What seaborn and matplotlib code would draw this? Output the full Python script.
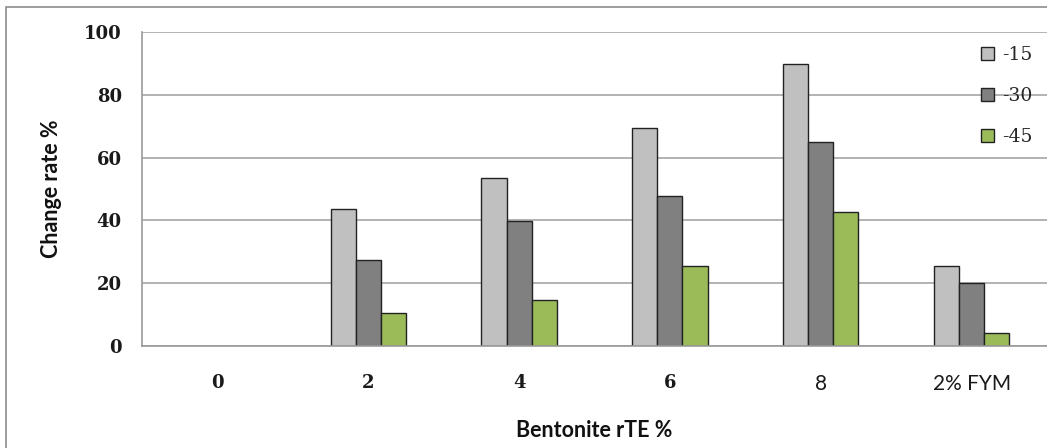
import matplotlib
matplotlib.use("Agg")
import matplotlib.pyplot as plt
import seaborn as sns
import pandas as pd
from matplotlib.patches import Rectangle

categories = ['0', '2', '4', '6', '8', '2% FYM']
series_names = ['-15', '-30', '-45']
vals_15 = [0, 43.6, 53.6, 69.3, 89.8, 25.5]
vals_30 = [0, 27.4, 39.8, 47.8, 65.1, 20.0]
vals_45 = [0, 10.5, 14.6, 25.6, 42.6, 4.1]
colors = ['#C0C0C0', '#808080', '#9BBB59']

rows = []
for name, vals in zip(series_names, [vals_15, vals_30, vals_45]):
    for c, v in zip(categories, vals):
        rows.append({'cat': c, 'series': name, 'value': v})
df = pd.DataFrame(rows)

sns.set_style("white")
fig = plt.figure(figsize=(10.47, 4.48), dpi=100)
ax = fig.add_axes([142/1047, 1 - 346/448, (1047-142)/1047, (346-32)/448])

sns.barplot(data=df, x='cat', y='value', hue='series', order=categories,
            hue_order=series_names, palette=colors, width=0.5, gap=0,
            edgecolor='#222222', linewidth=1.0, ax=ax, legend=True, saturation=1)

for p in ax.patches:
    if p.get_height() == 0:
        p.set_edgecolor('none')

ax.set_ylim(0, 100)
ax.set_xlim(-0.5, 5.5)
ax.set_yticks([0, 20, 40, 60, 80, 100])
ax.yaxis.grid(True, color='#A6A6A6', linewidth=1.2)
ax.set_axisbelow(True)
for s in ['top', 'right']:
    ax.spines[s].set_visible(False)
ax.spines['left'].set_color('#9a9a9a')
ax.spines['bottom'].set_color('#9a9a9a')
ax.spines['left'].set_linewidth(1.2)
ax.spines['bottom'].set_linewidth(1.2)
ax.tick_params(axis='y', length=6.5, width=1.2, color='#9a9a9a', pad=8)
ax.tick_params(axis='x', length=0, pad=20)

for lbl in ax.get_yticklabels():
    lbl.set_fontfamily('DejaVu Serif')
    lbl.set_fontweight('bold')
    lbl.set_fontsize(13)
    lbl.set_color('#1a1a1a')
for lbl in ax.get_xticklabels():
    if lbl.get_text() in ('8', '2% FYM'):
        lbl.set_fontfamily('Lato')
        lbl.set_fontsize(15)
    else:
        lbl.set_fontfamily('DejaVu Serif')
        lbl.set_fontweight('bold')
        lbl.set_fontsize(13)
    lbl.set_color('#1a1a1a')

ax.set_ylabel('Change rate %', fontfamily='Lato', fontweight='bold', fontsize=15.5, labelpad=16, color='#111111')
ax.set_xlabel('Bentonite rTE %', fontfamily='Lato', fontweight='bold', fontsize=15.5, labelpad=19, color='#111111')

handles, labels = ax.get_legend_handles_labels()
for h in handles:
    h.set_edgecolor('#222222')
    h.set_linewidth(1.0)
leg = ax.legend(handles, labels, loc='upper right', bbox_to_anchor=(1.0, 1.0), frameon=False,
                handlelength=0.7, handleheight=0.7, labelspacing=1.22, handletextpad=0.45,
                borderaxespad=0.35,
                prop={'family': 'DejaVu Serif', 'size': 13.5})

fig.patches.append(Rectangle((6/1047, -10/448), 1.2, (441+10)/448, transform=fig.transFigure,
                             fill=False, edgecolor='#8c8c8c', linewidth=1.2, clip_on=False))

fig.savefig('out.png', dpi=100)
